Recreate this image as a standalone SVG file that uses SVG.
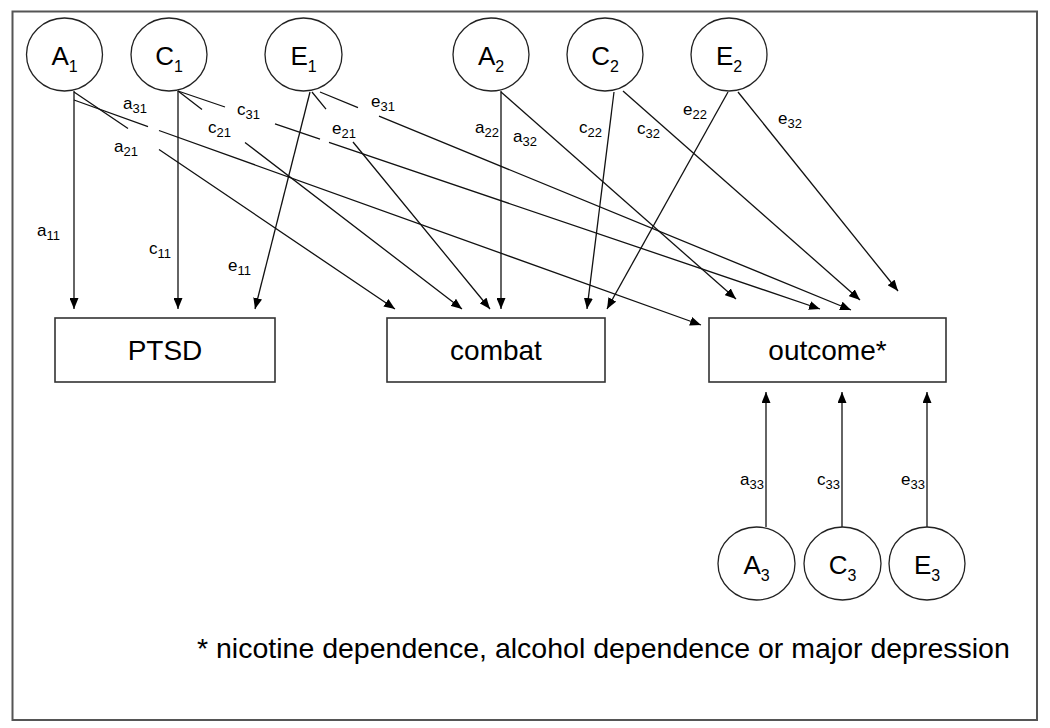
<svg xmlns="http://www.w3.org/2000/svg" width="1050" height="728" viewBox="0 0 1050 728">
<style>
text{font-family:"Liberation Sans",Arial,sans-serif;fill:#000}
.node ellipse{fill:#fff;stroke:#222;stroke-width:1.3}
.node rect{fill:#fff;stroke:#333;stroke-width:1.6}
.nl{font-size:26px;text-anchor:middle}
.nl tspan{font-size:16px}
.bl{font-size:28px;text-anchor:middle}
.lbl{font-size:17px}
.lbl tspan{font-size:13px}
#connectors path{fill:none;stroke:#111;stroke-width:1.3;marker-end:url(#ah)}
</style>
<defs>
<marker id="ah" viewBox="0 0 11 9" refX="11" refY="4.5" markerWidth="11" markerHeight="9" markerUnits="userSpaceOnUse" orient="auto">
<path d="M0,0 L11,4.5 L0,9 z" fill="#000"/>
</marker>
</defs>
<rect x="12.5" y="11.5" width="1024.5" height="708.5" fill="#fff" stroke="#555" stroke-width="2"/>

<g id="connectors">
<path d="M74,91 L74,309"/>
<path d="M178,91 L178,309"/>
<path d="M310,92 L255,309"/>
<path d="M74,92 L128,128.5 M159,149.5 L395,309"/>
<path d="M178,91 L202,109.4 M245,142.4 L462,309"/>
<path d="M312,92 L326,109.1 M353,142 L490,309"/>
<path d="M501,91 L501,309"/>
<path d="M614,92 L587,309"/>
<path d="M728,92 L607,309"/>
<path d="M74,100 L148,126.6 M159,130.5 L701,325"/>
<path d="M178,91 L225,107 M275,123.9 L320,139.2 M329,142.3 L820,309"/>
<path d="M320,92 L358,107.6 M379,116.2 L851,310"/>
<path d="M501,92 L736,299"/>
<path d="M623,91 L860,300"/>
<path d="M738,92 L898,291"/>
<path d="M766,527 L766,392"/>
<path d="M842,527 L842,392"/>
<path d="M927,527 L927,392"/>
</g>

<g id="labels">
<text class="lbl" x="37" y="236">a<tspan dy="4">11</tspan></text>
<text class="lbl" x="149" y="254">c<tspan dy="4">11</tspan></text>
<text class="lbl" x="228" y="271">e<tspan dy="4">11</tspan></text>
<text class="lbl" x="123" y="109">a<tspan dy="4">31</tspan></text>
<text class="lbl" x="114" y="152">a<tspan dy="4">21</tspan></text>
<text class="lbl" x="237" y="115">c<tspan dy="4">31</tspan></text>
<text class="lbl" x="208" y="133">c<tspan dy="4">21</tspan></text>
<text class="lbl" x="371" y="107">e<tspan dy="4">31</tspan></text>
<text class="lbl" x="332" y="134">e<tspan dy="4">21</tspan></text>
<text class="lbl" x="475" y="133">a<tspan dy="4">22</tspan></text>
<text class="lbl" x="513" y="142">a<tspan dy="4">32</tspan></text>
<text class="lbl" x="579" y="133">c<tspan dy="4">22</tspan></text>
<text class="lbl" x="637" y="134">c<tspan dy="4">32</tspan></text>
<text class="lbl" x="683" y="115">e<tspan dy="4">22</tspan></text>
<text class="lbl" x="778" y="124">e<tspan dy="4">32</tspan></text>
<text class="lbl" x="740" y="485">a<tspan dy="4">33</tspan></text>
<text class="lbl" x="817" y="485">c<tspan dy="4">33</tspan></text>
<text class="lbl" x="901" y="485">e<tspan dy="4">33</tspan></text>
</g>

<g id="A1" class="node"><ellipse cx="64.5" cy="54.5" rx="38" ry="36.5"/><text class="nl" x="64.5" y="65">A<tspan dy="7">1</tspan></text></g>
<g id="C1" class="node"><ellipse cx="169" cy="54.5" rx="38" ry="36.5"/><text class="nl" x="169" y="65">C<tspan dy="7">1</tspan></text></g>
<g id="E1" class="node"><ellipse cx="303.5" cy="54.5" rx="38.5" ry="36.5"/><text class="nl" x="303.5" y="65">E<tspan dy="7">1</tspan></text></g>
<g id="A2" class="node"><ellipse cx="491" cy="54.5" rx="38" ry="36.5"/><text class="nl" x="491" y="65">A<tspan dy="7">2</tspan></text></g>
<g id="C2" class="node"><ellipse cx="605" cy="54.5" rx="38" ry="36.5"/><text class="nl" x="605" y="65">C<tspan dy="7">2</tspan></text></g>
<g id="E2" class="node"><ellipse cx="729" cy="54.5" rx="38" ry="36.5"/><text class="nl" x="729" y="65">E<tspan dy="7">2</tspan></text></g>

<g id="PTSD" class="node"><rect x="55" y="318" width="220" height="64"/><text class="bl" x="165" y="360">PTSD</text></g>
<g id="combat" class="node"><rect x="387" y="318" width="218" height="64"/><text class="bl" x="496" y="360">combat</text></g>
<g id="outcome" class="node"><rect x="709" y="318" width="237" height="64"/><text class="bl" x="827.5" y="360">outcome*</text></g>

<g id="A3" class="node"><ellipse cx="756.5" cy="563.5" rx="38.5" ry="36.5"/><text class="nl" x="756.5" y="574">A<tspan dy="7">3</tspan></text></g>
<g id="C3" class="node"><ellipse cx="842.5" cy="563.5" rx="38.5" ry="36.5"/><text class="nl" x="842.5" y="574">C<tspan dy="7">3</tspan></text></g>
<g id="E3" class="node"><ellipse cx="927" cy="563.5" rx="38" ry="36.5"/><text class="nl" x="927" y="574">E<tspan dy="7">3</tspan></text></g>

<text x="197" y="658" font-size="28.5">* nicotine dependence, alcohol dependence or major depression</text>
</svg>
